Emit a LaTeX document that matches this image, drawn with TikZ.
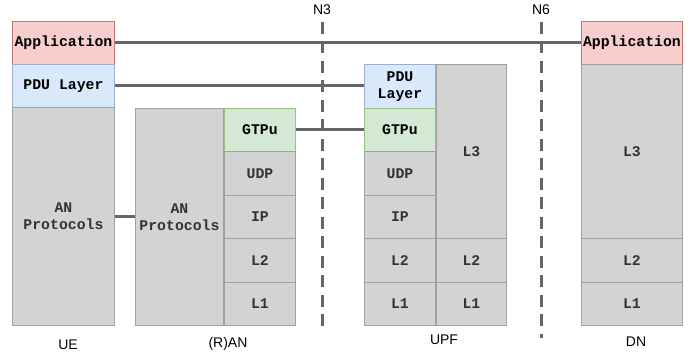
\documentclass[tikz,border=0pt]{standalone}
\usepackage{fontspec}
\setmainfont{Liberation Sans}
\newfontfamily\layerfont{Liberation Mono}

\definecolor{appfill}{HTML}{F8CECC}
\definecolor{appline}{HTML}{B85450}
\definecolor{pdufill}{HTML}{DAE8FC}
\definecolor{pduline}{HTML}{6C8EBF}
\definecolor{gtpfill}{HTML}{D5E8D4}
\definecolor{gtpline}{HTML}{82B366}
\definecolor{cellfill}{HTML}{D3D3D3}
\definecolor{cellline}{HTML}{A0A0A0}
\definecolor{celltext}{HTML}{333333}
\definecolor{linkgray}{HTML}{666666}

\tikzset{
  cell/.style={draw=cellline, fill=cellfill, line width=0.9pt, anchor=north west,
    inner sep=0pt, align=center, text=celltext,
    font=\layerfont\bfseries\fontsize{14.8}{17}\selectfont},
  appcell/.style={cell, fill=appfill, draw=appline!80, text=black},
  pducell/.style={cell, fill=pdufill, draw=pduline!70, text=black},
  gtpcell/.style={cell, fill=gtpfill, draw=gtpline!80, text=black},
  link/.style={draw=linkgray, line width=3pt},
  iface/.style={draw=linkgray, line width=3pt, dash pattern=on 12pt off 7.5pt},
  caption/.style={font=\fontsize{14}{16}\selectfont, text=black, inner sep=0pt}
}

% one protocol layer: style, name, top-left corner, width, height, text
\newcommand\layer[6]{\node[#1, minimum width=#4pt, minimum height=#5pt] (#2) at (#3) {#6};}

\begin{document}
\begin{tikzpicture}[x=1pt,y=-1pt]
\useasboundingbox (0,0) rectangle (697,358);

% UE
\layer{appcell}{ueapp}{12,21}{102}{43}{Application}
\layer{pducell}{uepdu}{12,64}{102}{43}{PDU Layer}
\layer{cell}{uean}{12,107}{102}{218}{AN\\Protocols}

% (R)AN
\layer{cell}{ranan}{135,108}{88}{217}{AN\\Protocols}
\layer{gtpcell}{rangtp}{224,108}{71}{43}{GTPu}
\layer{cell}{ranudp}{224,151}{71}{44}{UDP}
\layer{cell}{ranip}{224,195}{71}{43}{IP}
\layer{cell}{ranltwo}{224,238}{71}{44}{L2}
\layer{cell}{ranlone}{224,282}{71}{43}{L1}

% UPF
\layer{pducell}{upfpdu}{364,64}{71}{44}{PDU\\Layer}
\layer{gtpcell}{upfgtp}{364,108}{71}{43}{GTPu}
\layer{cell}{upfudp}{364,151}{71}{44}{UDP}
\layer{cell}{upfip}{364,195}{71}{43}{IP}
\layer{cell}{upfltwo}{364,238}{71}{44}{L2}
\layer{cell}{upflone}{364,282}{71}{43}{L1}
\layer{cell}{upflthree}{436,64}{70}{174}{L3}
\layer{cell}{upfltwob}{436,238}{70}{44}{L2}
\layer{cell}{upfloneb}{436,282}{70}{43}{L1}

% DN
\layer{appcell}{dnapp}{581,21}{101}{43}{Application}
\layer{cell}{dnlthree}{581,64}{101}{174}{L3}
\layer{cell}{dnltwo}{581,238}{101}{44}{L2}
\layer{cell}{dnlone}{581,282}{101}{43}{L1}

% peer-to-peer links
\draw[link] (ueapp.east) -- (dnapp.west);
\draw[link] (uepdu.east) -- (uepdu.east -| upfpdu.west);
\draw[link] (rangtp.east) -- (upfgtp.west);
\draw[link] (uean.east) -- (uean.east -| ranan.west);

% reference points
\coordinate (nthreetop) at (322,22);
\coordinate (nthreebot) at (322,333);
\coordinate (nsixtop) at (541,22);
\coordinate (nsixbot) at (541,338);
\draw[iface] (nthreetop) -- (nthreebot);
\draw[iface] (nsixtop) -- (nsixbot);
\node[caption] (nthree) at (322,10) {N3};
\node[caption] (nsix) at (541,10) {N6};

% node captions
\node[caption] (ue) at (68,345) {UE};
\node[caption] (ran) at (228,344) {(R)AN};
\node[caption] (upf) at (444,340) {UPF};
\node[caption] (dn) at (636,342) {DN};
\end{tikzpicture}
\end{document}
